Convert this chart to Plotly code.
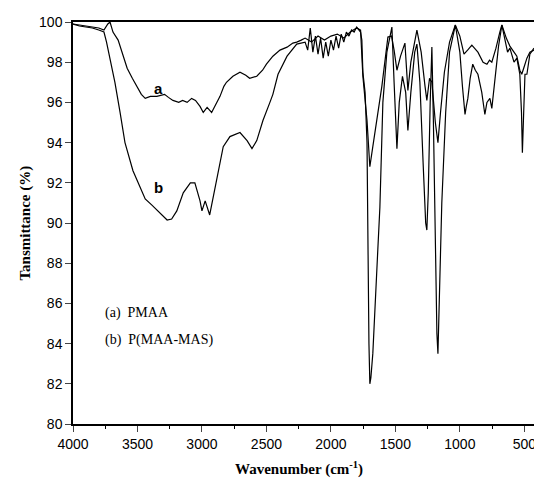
import plotly.graph_objects as go

# Curve (a) PMAA
wn_a = [4000, 3950, 3900, 3850, 3800, 3760, 3730, 3713, 3690, 3650, 3620, 3580, 3540, 3505,
        3470, 3440, 3400, 3350, 3290, 3260, 3225, 3180, 3150, 3115, 3080, 3050, 3015, 2990,
        2960, 2925, 2890, 2860, 2830, 2810, 2760, 2705, 2660, 2630, 2575, 2530, 2500, 2450,
        2395, 2340, 2295, 2265, 2230, 2200, 2150, 2100, 2050, 2000, 1950, 1900, 1850, 1800,
        1770, 1752, 1720, 1698, 1675, 1640, 1605, 1558, 1530, 1510, 1488, 1460, 1426, 1403,
        1380, 1333, 1300, 1270, 1256, 1235, 1217, 1190, 1170, 1150, 1120, 1080, 1035, 1000,
        968, 940, 907, 860, 820, 790, 770, 752, 720, 690, 674, 640, 612, 580, 558, 535, 520,
        500, 480, 457, 425]
t_a = [99.9, 99.85, 99.8, 99.75, 99.7, 99.6, 99.9, 100.0, 99.5, 99.1, 98.5, 97.7, 97.2, 96.8,
       96.4, 96.2, 96.3, 96.3, 96.4, 96.25, 96.1, 96.0, 96.1, 96.0, 96.2, 96.1, 95.8, 95.5,
       95.75, 95.5, 95.9, 96.3, 96.8, 97.0, 97.3, 97.5, 97.35, 97.2, 97.3, 97.6, 97.9, 98.3,
       98.6, 98.75, 98.95, 99.0, 99.1, 99.2, 99.0, 99.3, 99.1, 99.3, 99.4, 99.2, 99.5, 99.7,
       99.6, 97.3, 95.1, 92.8, 93.8, 95.3, 96.8, 99.25, 99.3, 98.6, 97.6, 98.3, 98.95, 96.6,
       98.0, 99.6, 98.5, 96.8, 96.1, 97.2, 97.0, 95.0, 94.0, 95.5, 97.5, 99.0, 99.85, 99.3,
       98.4, 98.6, 98.85, 98.5, 98.0, 97.9, 98.1, 98.0, 98.7, 99.5, 99.85, 99.2, 98.8, 98.5,
       98.3, 97.6, 97.4, 97.8, 98.2, 98.5, 98.6]

# Curve (b) P(MAA-MAS)
wn_b = [4000, 3950, 3900, 3850, 3800, 3780, 3760, 3740, 3713, 3675, 3635, 3597, 3535, 3480,
        3440, 3390, 3325, 3270, 3235, 3195, 3145, 3090, 3055, 3015, 3000, 2975, 2940, 2915,
        2885, 2835, 2783, 2705, 2650, 2612, 2575, 2527, 2473, 2450, 2410, 2340, 2265, 2200,
        2180, 2160, 2140, 2120, 2100, 2080, 2060, 2040, 2020, 2000, 1980, 1960, 1940, 1920,
        1900, 1880, 1860, 1840, 1820, 1800, 1770, 1760, 1752, 1735, 1720, 1713, 1705, 1698,
        1690, 1675, 1660, 1636, 1620, 1597, 1566, 1527, 1510, 1488, 1470, 1445, 1420, 1403,
        1380, 1350, 1333, 1310, 1285, 1265, 1256, 1245, 1230, 1217, 1205, 1190, 1178, 1170,
        1160, 1140, 1110, 1080, 1035, 1000, 980, 960, 950, 938, 920, 900, 880, 860, 830, 806,
        790, 767, 752, 730, 700, 674, 650, 630, 612, 580, 558, 535, 522, 515, 505, 495, 480,
        457, 425]
t_b = [99.9, 99.8, 99.75, 99.7, 99.6, 99.55, 99.5, 99.0, 98.2, 97.0, 95.5, 94.0, 92.6, 91.8,
       91.2, 90.9, 90.5, 90.15, 90.2, 90.6, 91.5, 92.0, 92.0, 91.1, 90.6, 91.1, 90.4, 91.2,
       92.1, 93.8, 94.3, 94.5, 94.1, 93.7, 94.1, 95.1, 96.0, 96.4, 97.4, 98.3, 98.9, 99.0,
       98.6, 99.7, 98.5, 99.3, 98.4, 99.2, 98.2, 99.0, 98.3, 99.1, 98.6, 99.3, 98.7, 99.4,
       99.0, 99.5, 99.3, 99.6, 99.5, 99.75, 99.5, 99.1, 97.5, 96.5, 94.0, 87.5, 84.0, 82.0,
       82.3, 83.5, 85.8, 88.7, 90.8, 96.0, 98.5, 99.75, 97.0, 93.7, 96.0, 97.3, 96.5, 94.6,
       96.5, 98.5, 98.9, 97.0, 93.0, 90.0, 89.65, 91.5, 96.0, 98.75, 95.0, 88.0, 84.5, 83.5,
       86.0, 91.0, 95.5, 98.5, 99.85, 98.5, 96.8, 95.4, 95.8, 96.2, 97.2, 97.9, 97.6, 97.4,
       96.5, 95.4, 96.0, 96.2, 95.7, 97.0, 98.8, 99.85, 99.0, 98.5, 98.7, 98.0, 98.2, 97.4,
       95.5, 93.5, 95.5, 97.4, 97.4, 98.4, 98.7]

x_ticks = [4000, 3500, 3000, 2500, 2000, 1500, 1000, 500]
y_ticks = [80, 82, 84, 86, 88, 90, 92, 94, 96, 98, 100]

fig = go.Figure()
fig.add_trace(go.Scatter(x=wn_a, y=t_a, mode="lines", line=dict(color="black", width=1.2),
                         showlegend=False))
fig.add_trace(go.Scatter(x=wn_b, y=t_b, mode="lines", line=dict(color="black", width=1.2),
                         showlegend=False))

fig.add_annotation(x=3335, y=96.7, text="<b>a</b>", showarrow=False,
                   font=dict(family="Liberation Sans", size=15, color="black"))
fig.add_annotation(x=3340, y=91.75, text="<b>b</b>", showarrow=False,
                   font=dict(family="Liberation Sans", size=15, color="black"))
fig.add_annotation(x=3770, y=85.5, text="(a)  PMAA", showarrow=False, xanchor="left",
                   font=dict(family="Liberation Serif", size=14, color="black"))
fig.add_annotation(x=3770, y=84.2, text="(b)  P(MAA-MAS)", showarrow=False, xanchor="left",
                   font=dict(family="Liberation Serif", size=14, color="black"))

# axis titles as paper annotations for precise placement
fig.add_annotation(xref="paper", yref="paper", x=0.49, y=-0.11, yanchor="middle",
                   text="<b>Wavenumber (cm<sup>-1</sup>)</b>", showarrow=False,
                   font=dict(family="Liberation Serif", size=15, color="black"))
fig.add_annotation(xref="paper", yref="paper", x=-0.105, y=0.5, xanchor="center",
                   text="<b>Tansmittance (%)</b>", showarrow=False, textangle=-90,
                   font=dict(family="Liberation Serif", size=15, color="black"))

fig.update_layout(
    width=534, height=489,
    margin=dict(l=73, r=0, t=22, b=65, autoexpand=False),
    paper_bgcolor="white", plot_bgcolor="white",
    font=dict(family="Liberation Sans", size=14, color="black"),
    xaxis=dict(range=[4000, 425], tickvals=x_ticks, ticks="outside", ticklen=6, tickwidth=1.3,
               showline=True, linecolor="black", linewidth=1.5, mirror=True, showgrid=False,
               zeroline=False, automargin=False, ticklabeloverflow="allow",
               minor=dict(tickvals=[3750, 3250, 2750, 2250, 1750, 1250, 750], ticks="outside",
                          ticklen=3, tickwidth=1.2, tickcolor="black"),
               tickfont=dict(family="Liberation Sans", size=14)),
    yaxis=dict(range=[80, 100], tickvals=y_ticks, ticks="outside", ticklen=6, tickwidth=1.3,
               showline=True, linecolor="black", linewidth=1.5, mirror=False, showgrid=False,
               zeroline=False, automargin=False,
               tickfont=dict(family="Liberation Sans", size=14)),
)

fig.write_html("out.html", config={"displayModeBar": False},
               post_script="document.body.style.margin='0px';document.body.style.overflow='hidden';")
